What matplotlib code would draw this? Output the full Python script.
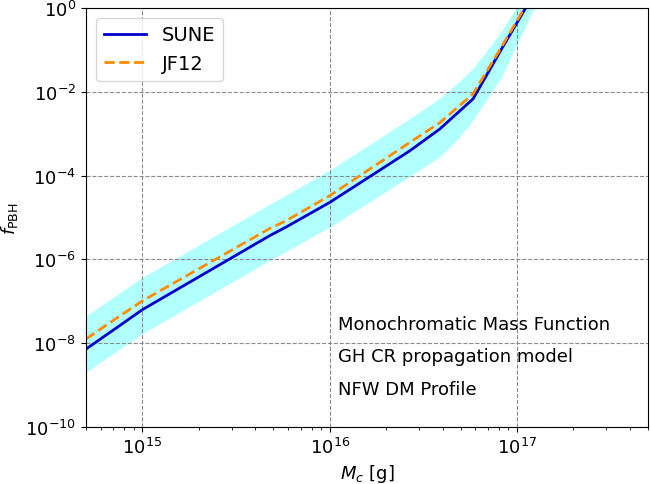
import numpy as np
import matplotlib
matplotlib.use("Agg")
import matplotlib.pyplot as plt
from matplotlib.ticker import LogLocator, NullFormatter

# log10 of mass [g]
log_mass = [14.699, 14.85, 15.0, 15.681, 15.766, 16.0, 16.427, 16.587, 16.765, 16.917, 17.046, 17.15]
# log10 f_PBH
log_sune = [-8.14, -7.67, -7.20, -5.43, -5.23, -4.64, -3.41, -2.89, -2.17, -0.98, 0.0, 0.85]
log_jf12 = [-7.90, -7.44, -6.99, -5.26, -5.08, -4.48, -3.21, -2.74, -2.05, -0.93, 0.05, 0.90]

# uncertainty band (log10)
log_band_mass = [14.699, 15.0, 15.681, 16.0, 16.427, 16.587, 16.68, 16.765, 16.85, 16.917, 17.046, 17.15]
log_band_hi = [-7.35, -6.43, -4.68, -3.87, -2.64, -2.15, -1.80, -1.44, -0.95, -0.55, 0.37, 1.15]
log_band_lo = [-8.69, -7.77, -6.02, -5.23, -4.02, -3.55, -3.15, -2.67, -2.10, -1.65, -0.42, 0.55]

labels = ["SUNE", "JF12"]
annot = ["Monochromatic Mass Function", "GH CR propagation model", "NFW DM Profile"]

m = 10.0 ** np.array(log_mass)
sune = 10.0 ** np.array(log_sune)
jf12 = 10.0 ** np.array(log_jf12)
mb = 10.0 ** np.array(log_band_mass)
hi = 10.0 ** np.array(log_band_hi)
lo = 10.0 ** np.array(log_band_lo)

fig = plt.figure(figsize=(6.5, 4.85), dpi=100)
ax = fig.add_axes([86/650, 1-428/485, (648-86)/650, (428-9)/485])

ax.fill_between(mb, lo, hi, color="cyan", alpha=0.3, linewidth=0)
ax.plot(m, sune, color="mediumblue", lw=2, label=labels[0])
ax.plot(m, jf12, color="darkorange", lw=2, ls="--", label=labels[1])

ax.set_xscale("log")
ax.set_yscale("log")
ax.set_xlim(5e14, 5e17)
ax.set_ylim(1e-10, 1)
ax.set_yticks([1e-10, 1e-8, 1e-6, 1e-4, 1e-2, 1])
ax.yaxis.set_minor_locator(plt.NullLocator())
ax.xaxis.set_minor_locator(LogLocator(base=10, subs=np.arange(2, 10)))
ax.xaxis.set_minor_formatter(NullFormatter())
ax.tick_params(labelsize=13)
ax.grid(True, which="major", ls="--", color="gray", lw=0.8, alpha=0.9)

ax.set_xlabel(r"$M_c$ [g]", fontsize=13)
ax.set_ylabel(r"$f_{\rm PBH}$", fontsize=13)

ax.legend(loc="upper left", fontsize=14, handlelength=2.2)

for i, t in enumerate(annot):
    fig.text(338/650, 1 - (325 + 32.5*i)/485, t, fontsize=13, ha="left", va="center")

fig.savefig("out.png", dpi=100)
